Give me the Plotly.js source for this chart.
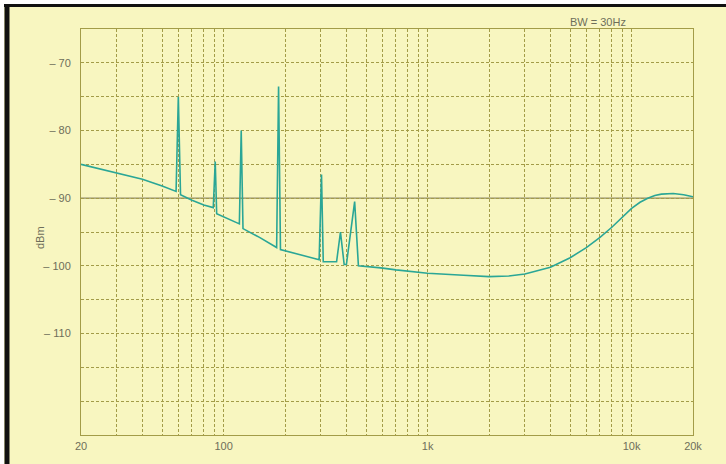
<!DOCTYPE html>
<html>
<head>
<meta charset="utf-8">
<script src="https://cdn.plot.ly/plotly-3.0.1.min.js"></script>
<style>html,body{margin:0;padding:0;background:#fff;}#chart{width:726px;height:464px;}</style>
</head>
<body>
<div id="chart"></div>
<script>
// Spectrum trace (frequency in Hz, level in dBm)
const freqHz = [20, 30, 40, 50, 58.5, 60, 61.5, 70, 80, 89, 91, 92.5, 105, 116, 119.5, 122, 124.5, 150, 182, 186, 190, 240, 294, 302, 308, 330, 358, 374, 390, 400, 439, 458, 500, 590, 700, 1000, 1500, 2000, 2500, 3000, 4000, 5000, 6000, 7000, 8000, 9000, 10000, 11000, 12000, 13000, 14000, 16000, 18000, 20000];
const levelDbm = [-85, -86.3, -87.2, -88.2, -89, -75, -89.5, -90.3, -91, -91.4, -84.6, -92.3, -93, -93.6, -93.8, -80, -94.5, -95.8, -97.3, -73.5, -97.6, -98.4, -99.1, -86.5, -99.4, -99.4, -99.4, -95, -99.8, -99.8, -90.5, -100, -100.1, -100.3, -100.6, -101.1, -101.4, -101.6, -101.5, -101.2, -100.2, -98.8, -97.3, -95.8, -94.3, -92.9, -91.5, -90.6, -90.0, -89.6, -89.4, -89.3, -89.5, -89.8];

// Axis ticks and labels
const xGridVals = [20,30,40,50,60,70,80,90,100,200,300,400,500,600,700,800,900,1000,2000,3000,4000,5000,6000,7000,8000,9000,10000,20000];
const xLabelMap = {20:'20', 100:'100', 1000:'1k', 10000:'10k', 20000:'20k'};
const yGridVals = [-120,-115,-110,-105,-100,-95,-90,-85,-80,-75,-70];
const yLabelMap = {'-70':'– 70', '-80':'– 80', '-90':'– 90', '-100':'– 100', '-110':'– 110'};
const noteText = 'BW = 30Hz';
const yTitle = 'dBm';

const bg = '#f8f6c0';
const gridCol = '#a39c48';

const trace = {
  x: freqHz, y: levelDbm, type: 'scatter', mode: 'lines',
  line: {color: '#2aa696', width: 1.6},
  hoverinfo: 'skip'
};

const layout = {
  width: 726, height: 464,
  margin: {l: 81, r: 33, t: 29, b: 29},
  paper_bgcolor: bg, plot_bgcolor: bg,
  showlegend: false,
  font: {family: 'Liberation Sans, Arial, sans-serif', size: 11, color: '#6e6e5a'},
  xaxis: {
    type: 'log', range: [Math.log10(20), Math.log10(20000)],
    tickmode: 'array', tickvals: xGridVals,
    ticktext: xGridVals.map(v => xLabelMap[v] || ''),
    showgrid: true, gridcolor: gridCol, gridwidth: 1, griddash: '3px,2px',
    zeroline: false, showline: true, linecolor: gridCol, linewidth: 1, mirror: true,
    ticks: '', ticklabelstandoff: 1,
    tickfont: {size: 11, color: '#6e6e5a'}
  },
  yaxis: {
    range: [-125, -65],
    tickmode: 'array', tickvals: yGridVals,
    ticktext: yGridVals.map(v => yLabelMap[String(v)] || ''),
    showgrid: true, gridcolor: gridCol, gridwidth: 1, griddash: '3px,2px',
    zeroline: false, showline: true, linecolor: gridCol, linewidth: 1, mirror: true,
    ticks: '', ticklabelstandoff: 7,
    tickfont: {size: 11, color: '#6e6e5a'}
  },
  shapes: [
    {type: 'line', xref: 'paper', yref: 'y', x0: 0, x1: 1, y0: -90, y1: -90,
     line: {color: '#8f8a6a', width: 1.2}, layer: 'between'},
    {type: 'rect', xref: 'paper', yref: 'paper', x0: -0.2, x1: 1.1, y0: (435-4)/406, y1: 1.2,
     fillcolor: '#ffffff', line: {width: 0}, layer: 'above'},
    {type: 'rect', xref: 'paper', yref: 'paper', x0: -0.2, x1: (4-81)/612, y0: -0.2, y1: 1.2,
     fillcolor: '#ffffff', line: {width: 0}, layer: 'above'},
    {type: 'line', xref: 'paper', yref: 'paper', x0: (7-81)/612, x1: (7-81)/612, y0: -0.1, y1: (435-4)/406,
     line: {color: '#111', width: 5}, layer: 'above'},
    {type: 'line', xref: 'paper', yref: 'paper', x0: (4-81)/612, x1: 1.1, y0: (435-5.5)/406, y1: (435-5.5)/406,
     line: {color: '#111', width: 3}, layer: 'above'}
  ],
  annotations: [
    {text: noteText, xref: 'paper', yref: 'paper', x: (598-81)/612, y: (435-22)/406,
     xanchor: 'center', yanchor: 'middle',
     showarrow: false, font: {size: 11, color: '#6e6e5a'}},
    {text: yTitle, xref: 'paper', yref: 'paper', x: (40-81)/612, y: (435-238)/406,
     xanchor: 'center', yanchor: 'middle',
     textangle: -90, showarrow: false, font: {size: 11, color: '#6e6e5a'}}
  ]
};

Plotly.newPlot('chart', [trace], layout, {staticPlot: true, displayModeBar: false});
</script>
</body>
</html>
